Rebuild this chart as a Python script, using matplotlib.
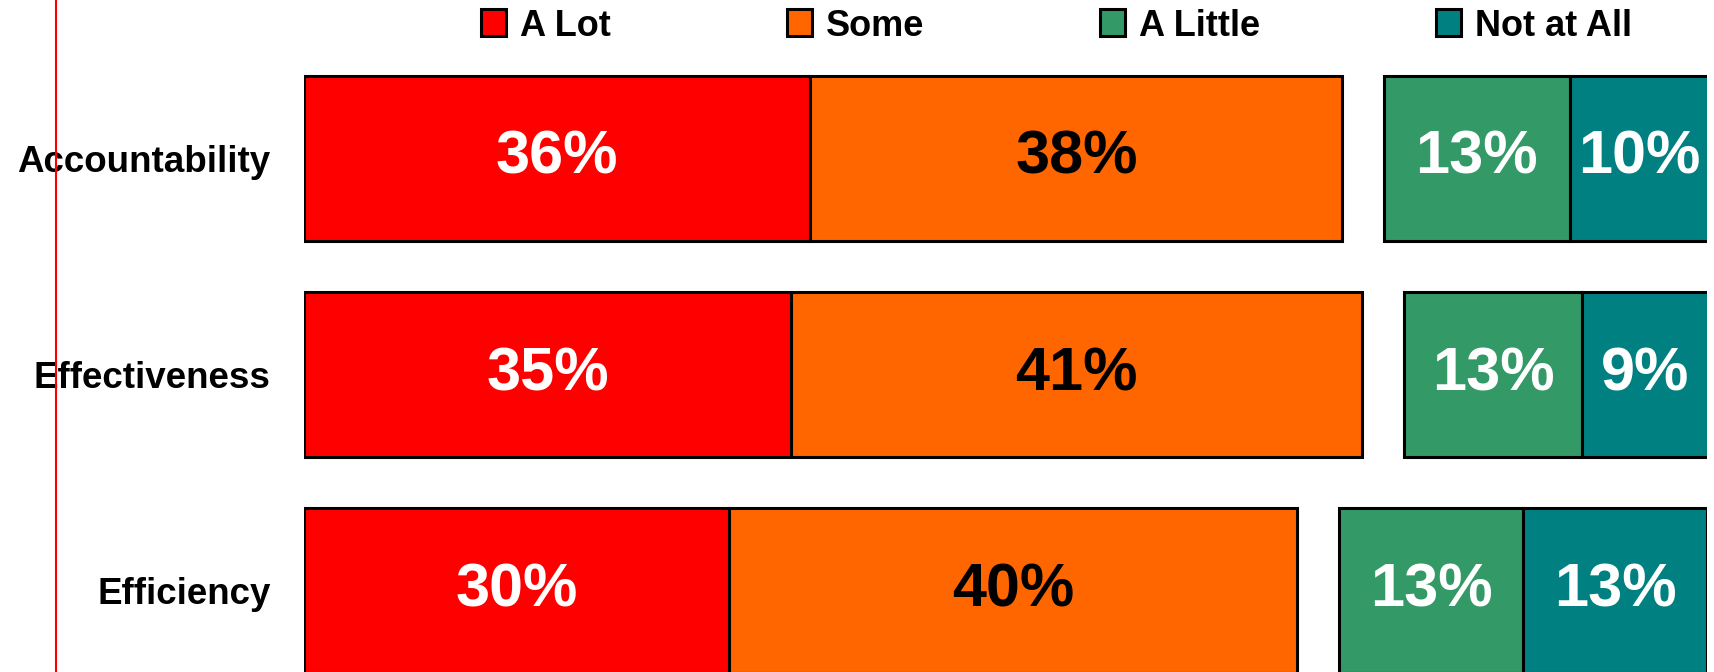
import matplotlib
matplotlib.use("Agg")
import matplotlib.pyplot as plt
import matplotlib.lines as mlines
from matplotlib import font_manager

categories = ["Accountability", "Effectiveness", "Efficiency"]
series_names = ["A Lot", "Some", "A Little", "Not at All"]
a_lot = [36.1, 34.7, 30.3]
some = [37.9, 40.7, 40.5]
a_little = [13.2, 12.7, 13.1]
not_at_all = [9.9, 9.0, 13.1]

colors = ["#FF0000", "#FF6600", "#339966", "#008080"]
text_colors = ["white", "black", "white", "white"]
GAP = 3.0  # blank space between the two groups

names = {f.name for f in font_manager.fontManager.ttflist}
if "Liberation Sans Narrow" in names:
    family = "Liberation Sans Narrow"
    lab_size, leg_size, val_size = 32, 32, 48
else:
    family = "Liberation Sans"
    lab_size, leg_size, val_size = 26.5, 26, 44
plt.rcParams["font.family"] = [family, "DejaVu Sans"]
plt.rcParams["font.weight"] = "bold"

W, H = 1715, 672
fig = plt.figure(figsize=(W / 100, H / 100), dpi=100)
ax = fig.add_axes([304 / W, 0, (1707 - 304) / W, 1])

ys = list(range(len(categories)))
bar_h = 0.763
series = [a_lot, some, a_little, not_at_all]
lefts = [0.0] * len(categories)
handles = []
for k, vals in enumerate(series):
    if k == 2:
        lefts = [l + GAP for l in lefts]
    bars = ax.barh(ys, vals, left=lefts, height=bar_h, color=colors[k],
                   edgecolor="black", linewidth=2.2, label=series_names[k])
    handles.append(bars)
    for y, l, v in zip(ys, lefts, vals):
        ax.text(l + v / 2, y, f"{round(v)}%", ha="center", va="center",
                color=text_colors[k], fontsize=val_size, fontweight="bold")
    lefts = [l + v for l, v in zip(lefts, vals)]

ax.set_xlim(0, 100)
ax.set_ylim(2.375, -0.733)
ax.set_xticks([])
ax.set_yticks(ys, categories)
ax.tick_params(axis="y", length=0, pad=24, labelsize=lab_size)
for lbl in ax.get_yticklabels():
    lbl.set_fontweight("bold")
for s in ax.spines.values():
    s.set_visible(False)

fpx = leg_size * 100 / 72
fig.legend(handles=handles, labels=series_names, ncol=4, frameon=False,
           loc="center", bbox_to_anchor=(0.616, 1 - 26 / H),
           prop={"family": [family, "DejaVu Sans"], "weight": "bold", "size": leg_size},
           handlelength=25 / fpx, handleheight=28 / fpx, handletextpad=14 / fpx,
           columnspacing=176 / fpx, borderpad=0)

fig.add_artist(mlines.Line2D([56 / W, 56 / W], [0, 1], color="red", lw=1.5,
                             transform=fig.transFigure, zorder=10))

fig.savefig("out.png", dpi=100)
